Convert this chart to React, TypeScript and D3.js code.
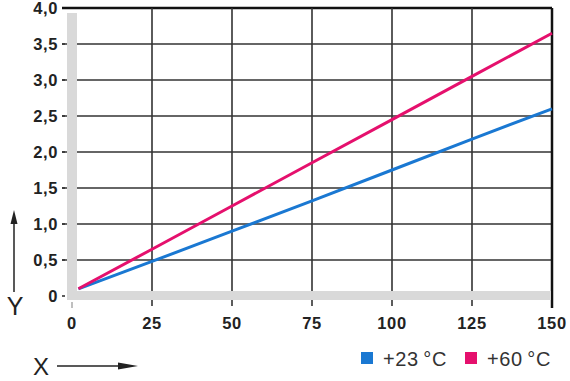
import * as d3 from 'd3'

const xTicks = [0, 25, 50, 75, 100, 125, 150]
const yTicks = [0, 0.5, 1, 1.5, 2, 2.5, 3, 3.5, 4]
const yTickLabels = ['0', '0,5', '1,0', '1,5', '2,0', '2,5', '3,0', '3,5', '4,0']

const xs = [2, 25, 50, 75, 100, 125, 150]
const blue23 = [0.1, 0.48, 0.9, 1.32, 1.75, 2.18, 2.6]
const pink60 = [0.1, 0.65, 1.25, 1.85, 2.45, 3.05, 3.65]

const series = [
  { name: '+23\u2009°C', color: '#1a78d2', values: blue23 },
  { name: '+60\u2009°C', color: '#e5106d', values: pink60 }
]

const W = 570
const H = 381
const FONT = '"Liberation Sans", Arial, Helvetica, sans-serif'

export default function App() {
  const x = d3.scaleLinear([0, 150], [72, 552])
  const y = d3.scaleLinear([0, 4], [296, 8])

  const line = d3.line<number>()
    .x((_, i) => x(xs[i]))
    .y(d => y(d))

  return (
    <svg width={W} height={H} style={{ position: 'absolute', left: 0, top: 0, background: '#fff' }}>
      {/* horizontal grid */}
      {yTicks.slice(1).map(t => (
        <line key={'h' + t} x1={62} x2={552} y1={y(t)} y2={y(t)}
          stroke={t === 4 ? '#111' : '#333'} strokeWidth={t === 4 ? 2.5 : 1.6} />
      ))}
      {/* vertical grid */}
      {xTicks.slice(1).map(t => (
        <line key={'v' + t} x1={x(t)} x2={x(t)} y1={y(4)} y2={t === 150 ? 308 : 306}
          stroke={t === 150 ? '#111' : '#333'} strokeWidth={t === 150 ? 2.5 : 1.6} />
      ))}
      {/* grey axis bands */}
      <rect x={x(0) - 5} y={13} width={10} height={y(0) - 13 + 4} fill="#d9d9d9" />
      <rect x={x(0) - 5} y={y(0) - 5} width={x(150) - x(0) + 4} height={9} fill="#d9d9d9" />
      <line x1={x(0)} x2={x(0)} y1={302} y2={308} stroke="#aaa" strokeWidth={1.5} />
      {/* y tick dashes */}
      {yTicks.slice(0, 8).map(t => (
        <line key={'d' + t} x1={62} x2={65} y1={y(t)} y2={y(t)} stroke="#333" strokeWidth={1.6} />
      ))}
      {yTicks.map((t, i) => (
        <text key={'yl' + t} x={58} y={y(t)} dy="0.36em" textAnchor="end"
          fontFamily={FONT} fontSize={16.5} fontWeight="bold" fill="#222" letterSpacing={0.6}>
          {yTickLabels[i]}
        </text>
      ))}
      {xTicks.map(t => (
        <text key={'xl' + t} x={x(t)} y={329} textAnchor="middle"
          fontFamily={FONT} fontSize={16.5} fontWeight="bold" fill="#222" letterSpacing={0.6}>
          {t}
        </text>
      ))}
      {/* data lines */}
      {series.map(s => (
        <path key={s.name} d={line(s.values) ?? ''} fill="none" stroke={s.color} strokeWidth={3} />
      ))}
      {/* axis names with arrows */}
      <text x={15} y={315} textAnchor="middle" fontFamily={FONT} fontSize={25} fill="#222">Y</text>
      <line x1={14} x2={14} y1={292} y2={222} stroke="#222" strokeWidth={1.5} />
      <path d="M14,210 L10.5,224 L17.5,224 Z" fill="#222" />
      <text x={41} y={375} textAnchor="middle" fontFamily={FONT} fontSize={24} fill="#222">X</text>
      <line x1={57} x2={125} y1={366} y2={366} stroke="#222" strokeWidth={1.5} />
      <path d="M138,366 L118,362.5 L118,369.5 Z" fill="#222" />
      {/* legend */}
      {series.map((s, i) => (
        <g key={'lg' + s.name} transform={`translate(${361 + i * 104},352)`}>
          <rect x={0} y={0} width={12} height={12} fill={s.color} />
          <text x={22} y={14} fontFamily={FONT} fontSize={20} fill="#333" letterSpacing={0.6}>
            {s.name}
          </text>
        </g>
      ))}
    </svg>
  )
}
